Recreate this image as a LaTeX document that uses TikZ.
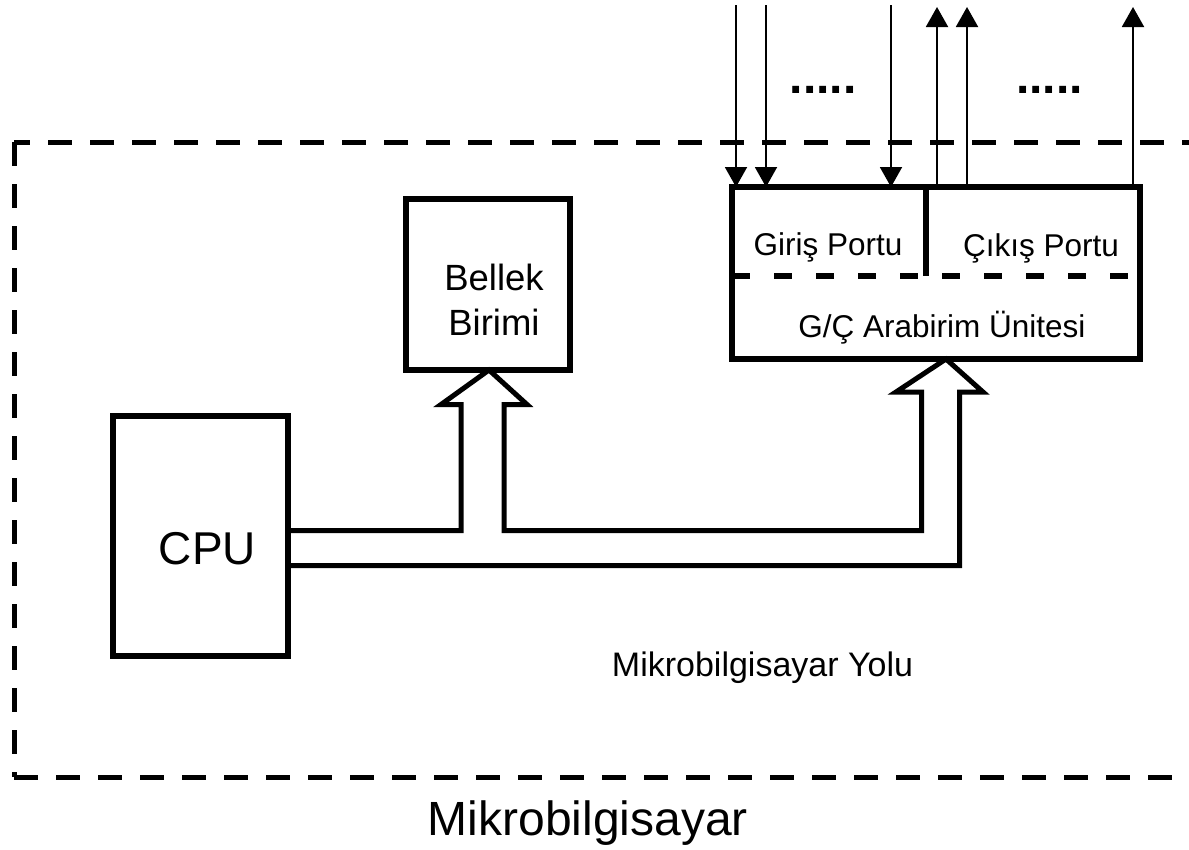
\documentclass[tikz,border=0pt]{standalone}
\usepackage{fontspec}
\setmainfont{Liberation Sans}
\usetikzlibrary{arrows.meta}
\begin{document}
\begin{tikzpicture}[x=1pt,y=-1pt,
  box/.style={draw,line width=6pt,inner sep=0pt,outer sep=0pt},
  frame/.style={line width=5pt,dash pattern=on 24pt off 18pt},
  bus/.style={line width=5pt,line join=miter},
  sig/.style={line width=2pt},
  sigarrow/.style={sig,-{Triangle[width=22pt,length=20pt]}},
  lbl/.style={inner sep=0pt,anchor=base}]
\useasboundingbox (0,0) rectangle (1189,849);
% outer dashed frame
\coordinate (fTL) at (14,142);
\coordinate (fBL) at (14,777);
\coordinate (fTR) at (1189,142);
\coordinate (fBR) at (1189,777);
\draw[frame,dash phase=8pt] (fTL) -- (fTR);
\draw[frame] (fTL) -- (fBL);
\draw[frame] (fBL) -- (fBR);
% boxes
\node[box,minimum width=164.5pt,minimum height=171pt] (mem) at (487.75,284.5) {};
\node[box,minimum width=175.5pt,minimum height=240pt] (cpu) at (200.25,536) {};
\node[box,minimum width=408pt,minimum height=172pt] (io) at (936,273) {};
% io internals
\coordinate (div) at (926,276);
\draw[line width=6pt] (div |- io.north) -- (div);
\draw[line width=6pt,dash pattern=on 18pt off 24pt] (io.west |- div) -- (io.east |- div);
% labels
\node[lbl,font=\fontsize{31.5}{37}\selectfont] (gin) at (828,255) {Giriş Portu};
\node[lbl,font=\fontsize{31.5}{37}\selectfont] (gout) at (1041,256) {Çıkış Portu};
\node[lbl,font=\fontsize{31.5}{37}\selectfont] (gc) at (942,337) {G/Ç Arabirim Ünitesi};
\node[inner sep=0pt,align=center,font=\fontsize{36.5}{45}\selectfont] (memlbl) at (494,299.5) {Bellek\\Birimi};
\node[lbl,font=\fontsize{46}{55}\selectfont] (cpulbl) at (207.5,564) {CPU};
\node[lbl,font=\fontsize{34}{40}\selectfont] (buslbl) at (762.5,676) {Mikrobilgisayar Yolu};
\node[lbl,font=\fontsize{48}{56}\selectfont] (title) at (588,835) {Mikrobilgisayar};
\node[lbl,font=\fontsize{48}{56}\selectfont\bfseries] (dots1) at (823,93) {.....};
\node[lbl,font=\fontsize{48}{56}\selectfont\bfseries] (dots2) at (1049.5,93) {.....};
% bus
\coordinate (busU) at (0,530.5);
\coordinate (busL) at (0,565.5);
\coordinate (tipM) at (489,370);
\coordinate (tipIO) at (946,359);
\draw[bus] (cpu.east |- busU) -- (461,530.5) -- (461,404.5) -- (441,404.5) -- (tipM)
  -- (527,404.5) -- (504,404.5) -- (504,530.5) -- (921.5,530.5) -- (921.5,392)
  -- (896,392) -- (tipIO) -- (983,392) -- (959.5,392) -- (959.5,565.5) -- (cpu.east |- busL);
% input signals
\coordinate (in1) at (736,5);
\coordinate (in2) at (766,5);
\coordinate (in3) at (891,5);
\draw[sigarrow] (in1) -- (in1 |- io.north);
\draw[sigarrow] (in2) -- (in2 |- io.north);
\draw[sigarrow] (in3) -- (in3 |- io.north);
% output signals
\coordinate (out1) at (937,7);
\coordinate (out2) at (967,7);
\coordinate (out3) at (1133,7);
\draw[sigarrow] (out1 |- io.north) -- (out1);
\draw[sigarrow] (out2 |- io.north) -- (out2);
\draw[sigarrow] (out3 |- io.north) -- (out3);
\end{tikzpicture}
\end{document}
